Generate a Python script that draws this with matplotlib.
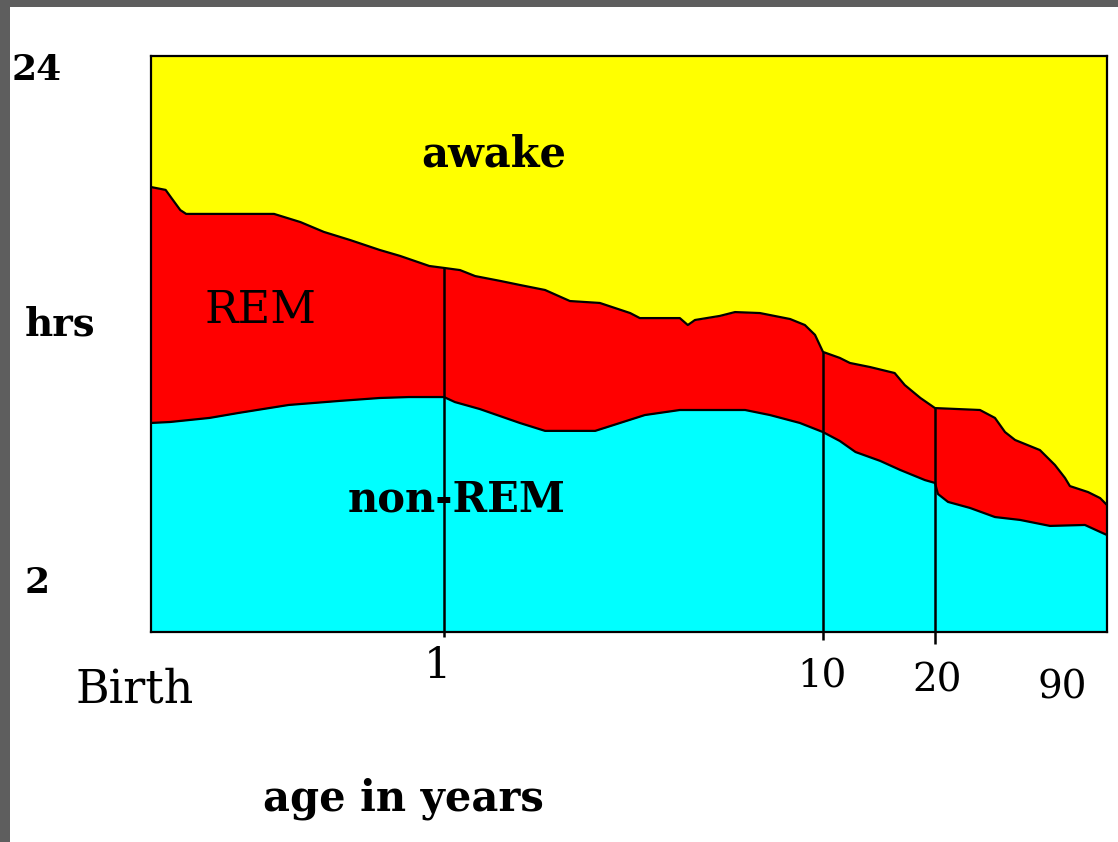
import numpy as np
import matplotlib.pyplot as plt
from matplotlib.patches import Rectangle
from matplotlib.transforms import blended_transform_factory, ScaledTranslation

# upper edge of REM band (border with awake), hours
rem_top_age = [0, 0.05, 0.07, 0.10, 0.12, 0.42, 0.51, 0.59, 0.68, 0.78, 0.85, 0.95, 1.0,
               1.38, 1.74, 2.33, 2.80, 3.40, 3.99, 4.70, 5.42, 5.65, 6.60, 6.79, 6.96,
               7.55, 7.91, 8.50, 9.22, 9.57, 9.81, 10.0,
               11.5, 12.4, 14.2, 16.4, 17.3, 18.7, 20.0,
               38.3, 44.4, 48.5, 52.6, 62.7, 68.8, 72.9, 74.9, 82.3, 87.2, 90]
rem_top_hrs = [18.54, 18.42, 18.08, 17.58, 17.42, 17.42, 17.08, 16.67, 16.33, 15.92, 15.67, 15.25, 15.17,
               15.08, 14.83, 14.63, 14.46, 14.25, 13.79, 13.71, 13.29, 13.08, 13.08, 12.79, 13.0,
               13.17, 13.33, 13.29, 13.04, 12.79, 12.38, 11.67,
               11.42, 11.21, 11.04, 10.79, 10.29, 9.75, 9.33,
               9.25, 8.92, 8.33, 8.0, 7.58, 6.96, 6.42, 6.08, 5.83, 5.58, 5.29]

# upper edge of non-REM band (border with REM), hours
nrem_top_age = [0, 0.065, 0.20, 0.30, 0.47, 0.645, 0.78, 0.88, 1.0,
                1.26, 1.85, 2.80, 3.40, 4.59, 5.18, 5.77, 6.60, 8.15, 8.74, 9.45, 10.0,
                11.5, 12.9, 15.1, 16.9, 19.1, 20.0,
                21.2, 25.3, 34.2, 44.4, 54.6, 66.8, 81.0, 87.2, 90]
nrem_top_hrs = [8.71, 8.75, 8.92, 9.13, 9.46, 9.63, 9.75, 9.79, 9.79,
                9.58, 9.29, 8.71, 8.38, 8.38, 8.71, 9.04, 9.25, 9.25, 9.04, 8.71, 8.33,
                7.96, 7.5, 7.13, 6.75, 6.33, 6.21,
                5.75, 5.42, 5.17, 4.79, 4.67, 4.42, 4.46, 4.17, 4.04]

marker_ages = [1, 10, 20]
x_tick_ages = [0, 1, 10, 20, 90]
x_tick_labels = ['Birth', '1', '10', '20', '90']
y_tick_hrs = [2, 24]
y_tick_labels = ['2', '24']

YELLOW = '#FFFF00'
RED = '#FF0000'
CYAN = '#00FFFF'

# the age axis is stretched by hand in the original drawing
anchor_age = [0, 1, 10, 20, 90]
anchor_pos = [0, 293, 672, 784, 956]


def fwd(a):
    return np.interp(a, anchor_age, anchor_pos)


def inv(p):
    return np.interp(p, anchor_pos, anchor_age)


plt.rcParams['font.family'] = ['DejaVu Serif']

fig = plt.figure(figsize=(11.18, 8.42), dpi=100, facecolor='#5e5e5e')
fig.patches.append(Rectangle((10 / 1118, 0), 1 - 10 / 1118, 1 - 7 / 842,
                             transform=fig.transFigure, facecolor='white',
                             edgecolor='none', zorder=-10))

ax = fig.add_axes([151 / 1118, 1 - 632 / 842, 956 / 1118, 576 / 842])
ax.set_xscale('function', functions=(fwd, inv))
ax.set_xlim(0, 90)
ax.set_ylim(0, 24)

ax.fill_between(rem_top_age, rem_top_hrs, 24, color=YELLOW, lw=0)
ax.fill_between(rem_top_age, 0, rem_top_hrs, color=RED, lw=0)
ax.fill_between(nrem_top_age, 0, nrem_top_hrs, color=CYAN, lw=0)
ax.plot(rem_top_age, rem_top_hrs, color='black', lw=1.6)
ax.plot(nrem_top_age, nrem_top_hrs, color='black', lw=1.6)

# vertical markers run from the REM/awake edge to just below the axis
tails = [-0.2, -0.35, -0.5]
for age, tail in zip(marker_ages, tails):
    top = np.interp(age, rem_top_age, rem_top_hrs)
    ax.vlines(age, tail, top, color='black', lw=1.8, clip_on=False)

for s in ax.spines.values():
    s.set_color('black')
    s.set_linewidth(1.6)
ax.set_xticks([])
ax.set_yticks([])

# tick labels placed by hand like the original (offsets in pixels)
tx = blended_transform_factory(ax.transData, ax.transAxes)
x_dx = [-16, -7, -1, 2, -45]
x_dy = [58, 34, 45, 49, 56]
x_size = [33, 31, 28, 28, 28]
for age, lab, dx, dy, fs in zip(x_tick_ages, x_tick_labels, x_dx, x_dy, x_size):
    off = ScaledTranslation(dx / 100, -dy / 100, fig.dpi_scale_trans)
    ax.text(age, 0, lab, transform=tx + off, ha='center', va='center', fontsize=fs)

ty = blended_transform_factory(ax.transAxes, ax.transData)
y_x = [-0.1318, -0.1454]
y_pos = [2.04, 23.4]
for xp, yp, lab in zip(y_x, y_pos, y_tick_labels):
    ax.text(xp, yp, lab, transform=ty, ha='left', va='center',
            fontsize=26, fontweight='bold')
ax.text(-0.1318, 12.8, 'hrs', transform=ty, ha='left', va='center',
        fontsize=28, fontweight='bold')

ax.text(2.19, 19.9, 'awake', ha='center', va='center', fontsize=30, fontweight='bold')
ax.text(0.372, 13.4, 'REM', ha='center', va='center', fontsize=32)
ax.text(1.31, 5.5, 'non-REM', ha='center', va='center', fontsize=30, fontweight='bold')
ax.text((403 - 151) / 956, -0.29, 'age in years', transform=ax.transAxes,
        ha='center', va='center', fontsize=30, fontweight='bold')

fig.savefig('out.png', dpi=100, facecolor=fig.get_facecolor())
